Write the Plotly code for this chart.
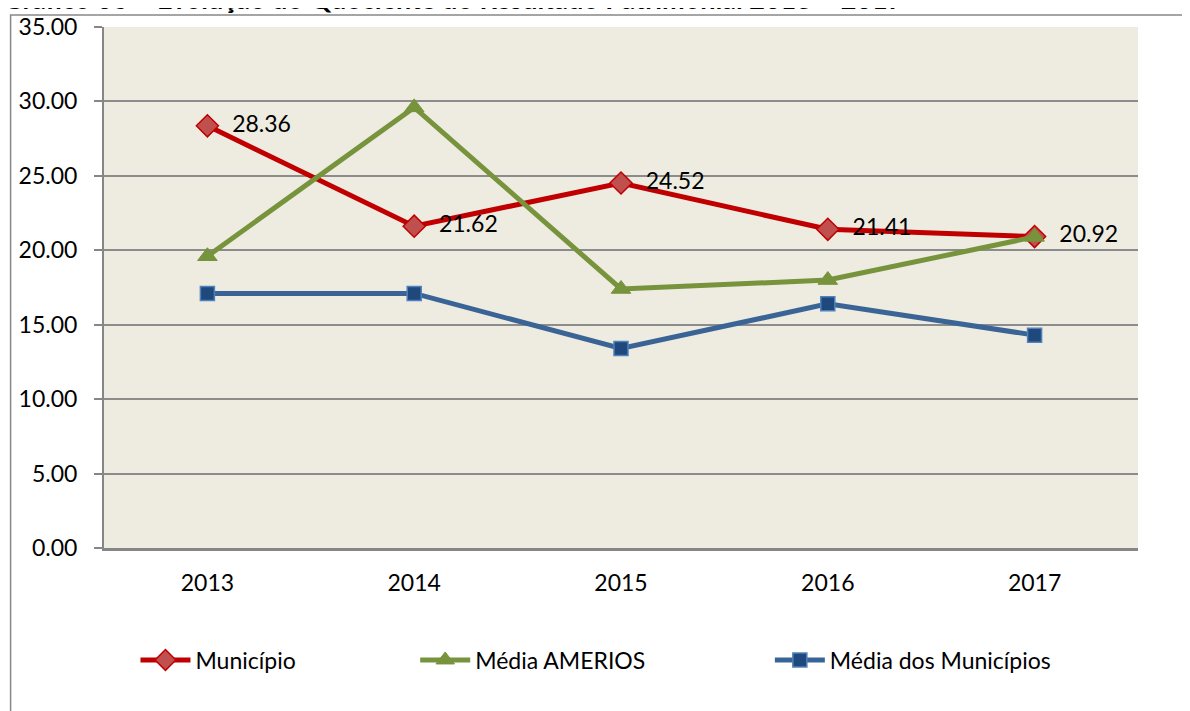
import plotly.graph_objects as go

years = ["2013", "2014", "2015", "2016", "2017"]
municipio = [28.36, 21.62, 24.52, 21.41, 20.92]
media_amerios = [19.6, 29.6, 17.4, 18.0, 20.9]
media_municipios = [17.1, 17.1, 13.4, 16.4, 14.3]
y_ticks = [0, 5, 10, 15, 20, 25, 30, 35]
title_text = "Gráfico 06 – Evolução do Quociente do Resultado Patrimonial 2013 – 2017"

FONT = "Lato"
FS = 23

# screen geometry of plot area (page has an 8px body offset)
PL, PR, PT, PB = 103.5, 1138.5, 27, 548
W = PR - PL
H = PB - PT


def lx(screen_x):
    return (screen_x - 5 - PL) / W


fig = go.Figure()
fig.add_trace(go.Scatter(
    x=years, y=municipio, name="Município", mode="lines+markers",
    line=dict(color="#C00000", width=5),
    marker=dict(symbol="diamond", size=17, color="#C0504D",
                line=dict(color="#C00000", width=1.5)),
    legend="legend",
))
fig.add_trace(go.Scatter(
    x=years, y=media_amerios, name="Média AMERIOS", mode="lines+markers",
    line=dict(color="#77933C", width=5),
    marker=dict(symbol="triangle-up", size=17, color="#77933C",
                line=dict(color="#77933C", width=1)),
    legend="legend2",
))
fig.add_trace(go.Scatter(
    x=years, y=media_municipios, name="Média dos Municípios", mode="lines+markers",
    line=dict(color="#3A6496", width=5),
    marker=dict(symbol="square", size=14, color="#1F497D",
                line=dict(color="#4F81BD", width=1.5)),
    legend="legend3",
))
# data labels for Município
fig.add_trace(go.Scatter(
    x=years, y=municipio, mode="markers+text", showlegend=False,
    marker=dict(size=38, opacity=0),
    text=[f"{v:.2f}" for v in municipio], textposition="middle right",
    textfont=dict(family=FONT, size=FS, color="black"),
    hoverinfo="skip",
))

leg_common = dict(orientation="h", xanchor="left", y=(PB - 660) / H, yanchor="middle",
                  font=dict(family=FONT, size=FS, color="black"),
                  itemwidth=50, bgcolor="rgba(0,0,0,0)")

fig.update_layout(
    width=1190, height=711,
    margin=dict(l=PL - 8, r=1190 - (PR - 8), t=PT - 8, b=711 - (PB - 8), autoexpand=False),
    paper_bgcolor="white", plot_bgcolor="#EEEBE1",
    font=dict(family=FONT, size=FS, color="black"),
    showlegend=True,
    legend=dict(x=lx(140), **leg_common),
    legend2=dict(x=lx(420), **leg_common),
    legend3=dict(x=lx(775), **leg_common),
    xaxis=dict(type="category", range=[-0.5, 4.5], showgrid=False,
               showline=True, linecolor="#868686", linewidth=3,
               ticks="outside", ticklen=12, tickcolor="rgba(0,0,0,0)",
               tickfont=dict(family=FONT, size=FS, color="black"), zeroline=False),
    yaxis=dict(range=[0, 35], tickvals=y_ticks, tickformat=".2f",
               showgrid=True, gridcolor="#8C8C8C", gridwidth=2,
               showline=True, linecolor="#868686", linewidth=2,
               ticks="outside", ticklen=8, tickcolor="#868686", tickwidth=2,
               ticklabelstandoff=12,
               tickfont=dict(family=FONT, size=FS, color="black"), zeroline=False),
    shapes=[dict(type="rect", xref="paper", yref="paper",
                 x0=(10 - PL) / W, x1=1.06, y0=-0.33, y1=(PB - 15) / H,
                 line=dict(color="#888888", width=1.5), fillcolor="rgba(0,0,0,0)",
                 layer="below")],
    annotations=[dict(text="<b>" + title_text + "</b>", xref="paper", yref="paper",
                      x=-PL / W, xanchor="left", y=(PB - 17) / H, yanchor="bottom",
                      showarrow=False, font=dict(family=FONT, size=27, color="black"))],
)

fig.write_html("out.html")
